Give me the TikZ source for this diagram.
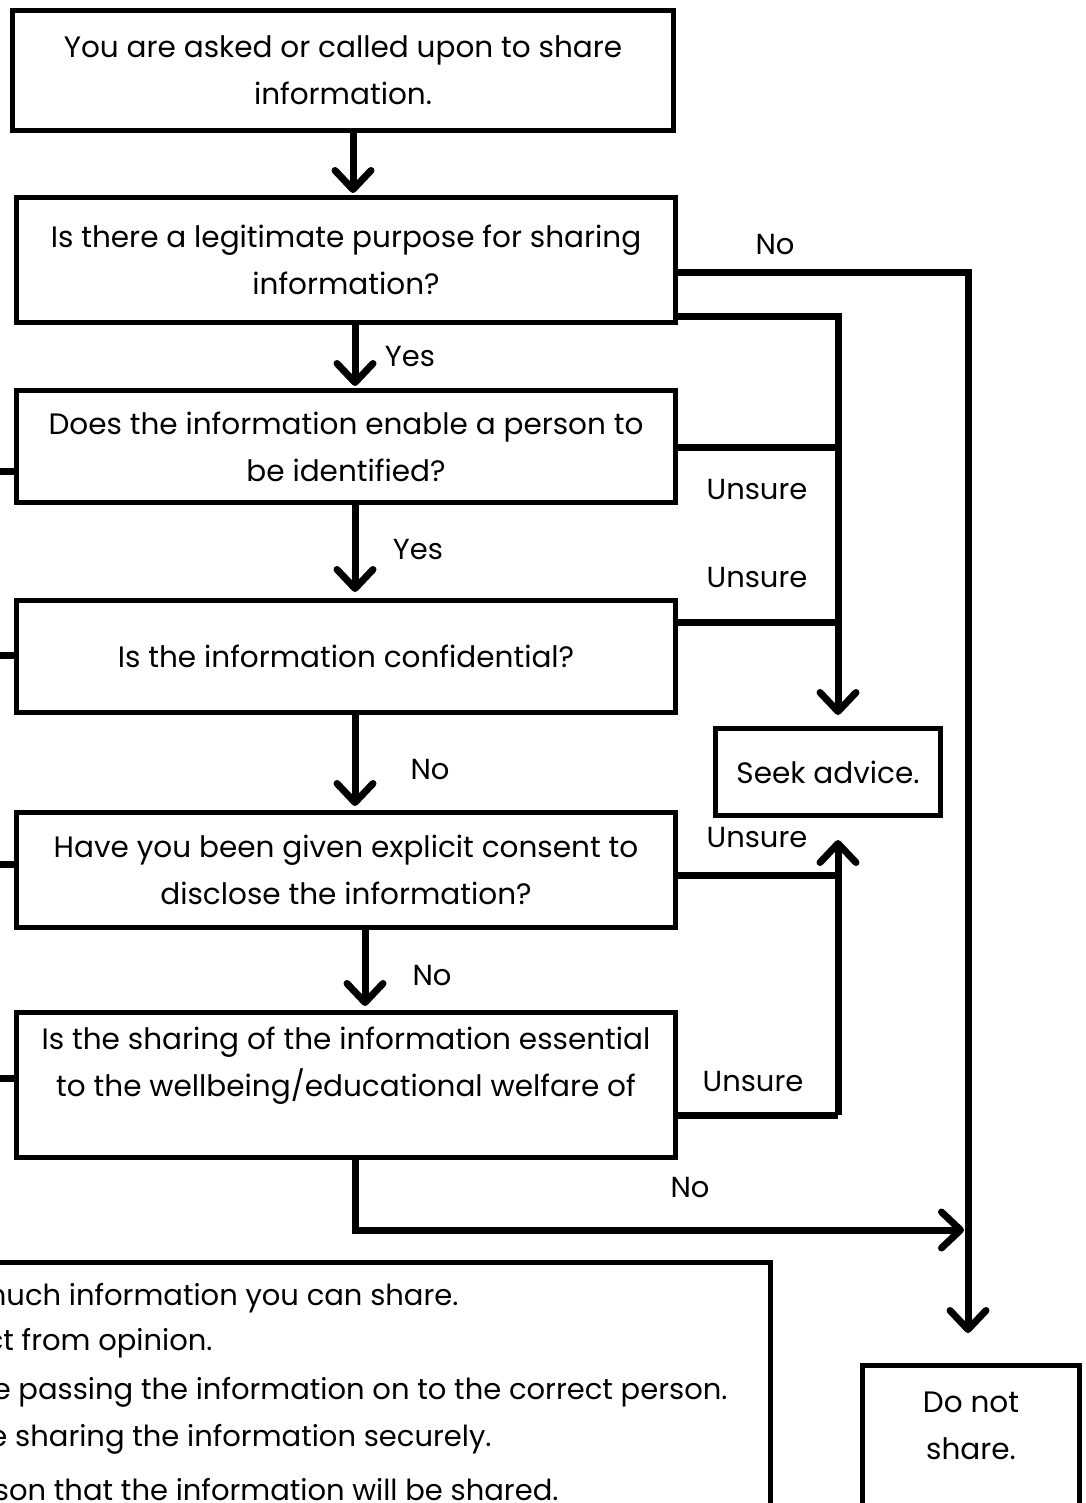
\documentclass[tikz,border=0pt]{standalone}
\usepackage{fontspec}
\setmainfont{Poppins}
\usetikzlibrary{arrows.meta,calc}

\begin{document}
\begin{tikzpicture}[x=1pt,y=-1pt,
    box/.style={draw,line width=5pt,align=center,inner sep=0pt,
      font=\fontsize{29.5}{47}\selectfont},
    link/.style={line width=7pt},
    arrow/.style={link,-{Straight Barb[length=19pt,width=36pt,round]}},
    lbl/.style={font=\fontsize{29}{36}\selectfont}]
    \useasboundingbox (0,0) rectangle (1085,1503);
    \clip (0,0) rectangle (1085,1503);
    \fill[white] (0,0) rectangle (1085,1503);
    % question boxes
    \node[box,minimum width=661pt,minimum height=120pt] (ask) at (343,70.5)
        {You are asked or called upon to share\\information.};
    \node[box,minimum width=659pt,minimum height=125pt] (purpose) at (346,260)
        {Is there a legitimate purpose for sharing\\information?};
    \node[box,minimum width=659pt,minimum height=112pt] (ident) at (346,446.5)
        {Does the information enable a person to\\be identified?};
    \node[box,minimum width=659pt,minimum height=112pt] (conf) at (346,656.5)
        {Is the information confidential?};
    \node[box,minimum width=659pt,minimum height=115pt] (consent) at (346,870)
        {Have you been given explicit consent to\\disclose the information?};
    \node[box,minimum width=659pt,minimum height=145pt] (essential) at (346,1085)
        {Is the sharing of the information essential\\to the wellbeing/educational welfare of\\\mbox{}};
    % outcomes
    \node[box,minimum width=225pt,minimum height=87pt] (seek) at (828,772) {Seek advice.};
    \node[box,minimum width=217pt,minimum height=168pt,anchor=north] (dont) at (971,1363)
        {Do not\\share.\\\mbox{}};
    \node[box,minimum width=790pt,minimum height=298pt] (notes) at (375,1411) {};
    \node[lbl,anchor=east] (n1) at (462,1298) {much information you can share.};
    \node[lbl,anchor=east] (n2) at (216,1343) {ct from opinion.};
    \node[lbl,anchor=east] (n3) at (731,1392) {e passing the information on to the correct person.};
    \node[lbl,anchor=east] (n4) at (495,1439) {e sharing the information securely.};
    \node[lbl,anchor=east] (n5) at (562,1490) {son that the information will be shared.};

    % main line
    \draw[arrow,shorten >=2pt] ([xshift=10pt]ask.south) -- ([xshift=7pt]purpose.north);
    \draw[arrow,shorten >=2pt] ([xshift=9pt]purpose.south) -- ([xshift=9pt]ident.north);
    \draw[arrow,shorten >=6pt] ([xshift=9pt]ident.south) -- ([xshift=9pt]conf.north);
    \draw[arrow,shorten >=4pt] ([xshift=9pt]conf.south) -- ([xshift=9pt]consent.north);
    \draw[arrow,shorten >=4pt] ([xshift=19pt]consent.south) -- ([xshift=19pt]essential.north);
    \node[lbl] (y1) at (410,357) {Yes};
    \node[lbl] (y2) at (418,550) {Yes};
    \node[lbl] (no1) at (430,770) {No};
    \node[lbl] (no2) at (432,975) {No};

    % no branch
    \coordinate (norail) at (968,273);
    \coordinate (nobottom) at (355,1230);
    \draw[arrow,shorten >=30pt] (purpose.east |- norail) -- (norail) -- (norail |- dont.north);
    \draw[arrow,shorten >=4pt] (essential.south -| nobottom) -- (nobottom) -- (nobottom -| norail);
    \node[lbl] (no3) at (775,245) {No};
    \node[lbl] (no4) at (690,1187) {No};

    % unsure branch
    \coordinate (u1) at (838,316);
    \coordinate (u2) at (838,447);
    \coordinate (u3) at (838,622);
    \coordinate (u4) at (838,875);
    \coordinate (u5) at (838,1115);
    \draw[arrow,shorten >=11pt] (purpose.east |- u1) -- (u1) -- (u1 |- seek.north);
    \foreach \u/\b in {u2/ident,u3/conf,u4/consent,u5/essential}
        \draw[link] (\b.east |- \u) -- (\u);
    \draw[arrow,shorten >=22pt] (u5) -- (u5 |- seek.south);
    \node[lbl] (un1) at (757,490) {Unsure};
    \node[lbl] (un2) at (757,578) {Unsure};
    \node[lbl] (un3) at (757,838) {Unsure};
    \node[lbl] (un4) at (753,1082) {Unsure};

    % stubs to the left
    \foreach \s/\b/\y in {s3/ident/471,s4/conf/655,s5/consent/864,s6/essential/1078}{
        \coordinate (\s) at (-10,\y);
        \draw[link] (\s) -- (\b.west |- \s);
    }
\end{tikzpicture}
\end{document}
